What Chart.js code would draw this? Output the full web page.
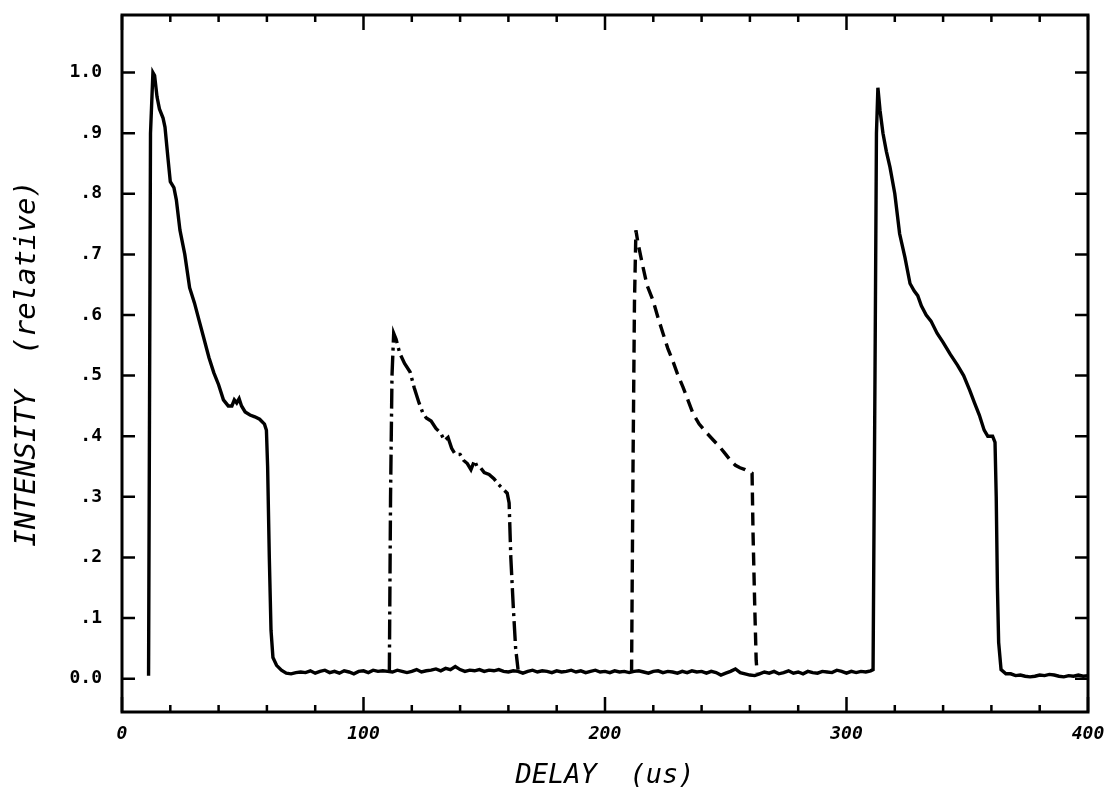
<!DOCTYPE html>
<html lang="en">
<head>
  <meta charset="UTF-8">
  <title>Intensity vs Delay</title>
  <script src="https://cdn.jsdelivr.net/npm/chart.js"></script>
  <style>
    html, body { margin: 0; padding: 0; background: #fff; }
    .chart-box { width: 1113px; height: 800px; }
  </style>
</head>
<body>
  <div class="chart-box"><canvas id="pulseChart"></canvas></div>

  <script>
    // Solid trace: first pulse, baseline, second pulse
    const solidX = [
      11.0, 11.8, 12.8, 13.5, 14.5, 15.5, 17.0, 17.8, 19.0, 20.0,
      21.5, 22.5, 24.0, 26.0, 28.0, 30.0, 32.0, 34.0, 36.0, 38.0,
      40.0, 42.0, 44.0, 45.5, 46.5, 47.5, 48.5, 49.5, 51.0, 53.0,
      55.0, 57.0, 59.0, 59.8, 60.3, 61.0, 61.7, 62.5,
      64, 66, 68, 70, 72, 74, 76, 78, 80, 82,
      84, 86, 88, 90, 92, 94, 96, 98, 100, 102,
      104, 106, 108, 110, 112, 114, 116, 118, 120, 122,
      124, 126, 128, 130, 132, 134, 136, 138, 140, 142,
      144, 146, 148, 150, 152, 154, 156, 158, 160, 162,
      164, 166, 168, 170, 172, 174, 176, 178, 180, 182,
      184, 186, 188, 190, 192, 194, 196, 198, 200, 202,
      204, 206, 208, 210, 212, 214, 216, 218, 220, 222,
      224, 226, 228, 230, 232, 234, 236, 238, 240, 242,
      244, 246, 248, 250, 252, 254, 256, 258, 260, 262,
      264, 266, 268, 270, 272, 274, 276, 278, 280, 282,
      284, 286, 288, 290, 292, 294, 296, 298, 300, 302,
      304, 306, 308, 310, 311.0,
      311.8, 312.4, 313.0, 313.9, 315.1, 316.5, 318.0, 320.0, 322.0, 324.2,
      326.3, 328.0, 329.5, 331.0, 333.0, 335.0, 337.5, 340.0, 343.0, 346.0,
      348.5, 351.0, 353.0, 355.0, 357.0, 358.5, 360.5, 361.5, 362.0, 362.5,
      363.0, 364.0,
      366, 368, 370, 372, 374, 376, 378, 380, 382, 384,
      386, 388, 390, 392, 394, 396, 398, 400];
    const solidY = [
      0.005, 0.90, 1.0, 0.995, 0.96, 0.94, 0.925, 0.91, 0.86, 0.82,
      0.81, 0.79, 0.74, 0.70, 0.645, 0.62, 0.59, 0.56, 0.53, 0.505,
      0.485, 0.46, 0.45, 0.45, 0.46, 0.455, 0.462, 0.45, 0.44, 0.435,
      0.432, 0.428, 0.42, 0.41, 0.35, 0.20, 0.08, 0.035,
      0.022, 0.014, 0.009, 0.008, 0.010, 0.011, 0.010, 0.013, 0.009, 0.012,
      0.014, 0.010, 0.012, 0.009, 0.013, 0.011, 0.008, 0.012, 0.013, 0.010,
      0.014, 0.012, 0.013, 0.012, 0.011, 0.014, 0.012, 0.010, 0.012, 0.015,
      0.011, 0.013, 0.014, 0.016, 0.013, 0.017, 0.015, 0.020, 0.015, 0.012,
      0.014, 0.013, 0.015, 0.012, 0.014, 0.013, 0.015, 0.012, 0.011, 0.013,
      0.012, 0.009, 0.012, 0.014, 0.011, 0.013, 0.012, 0.010, 0.013, 0.011,
      0.012, 0.014, 0.011, 0.013, 0.010, 0.012, 0.014, 0.011, 0.012, 0.010,
      0.013, 0.011, 0.012, 0.010, 0.012, 0.013, 0.011, 0.009, 0.012, 0.013,
      0.010, 0.012, 0.011, 0.009, 0.012, 0.010, 0.013, 0.011, 0.012, 0.009,
      0.012, 0.010, 0.006, 0.009, 0.012, 0.016, 0.010, 0.008, 0.006, 0.005,
      0.008, 0.011, 0.009, 0.012, 0.008, 0.010, 0.013, 0.009, 0.011, 0.008,
      0.012, 0.010, 0.009, 0.012, 0.011, 0.010, 0.014, 0.012, 0.009, 0.012,
      0.010, 0.012, 0.011, 0.013, 0.015,
      0.50, 0.90, 0.975, 0.937, 0.90, 0.87, 0.844, 0.80, 0.734, 0.695,
      0.652, 0.64, 0.632, 0.615, 0.60, 0.59, 0.57, 0.555, 0.535, 0.517,
      0.50, 0.476, 0.455, 0.435, 0.41, 0.40, 0.40, 0.39, 0.30, 0.15,
      0.06, 0.015,
      0.008, 0.008, 0.005, 0.006, 0.004, 0.003, 0.004, 0.006, 0.005, 0.007,
      0.006, 0.004, 0.003, 0.005, 0.004, 0.006, 0.004, 0.005];

    // Dash-dot trace
    const dashDotX = [
      110.7, 111.2, 111.8, 112.5, 113.5, 115.0, 117.0, 119.3, 121.0, 123.0,
      124.6, 126.0, 128.0, 130.0, 132.0, 133.5, 135.0, 136.5, 138.0, 140.0,
      141.5, 143.0, 144.5, 146.0, 147.0, 148.5, 150.0, 152.0, 154.0, 156.0,
      158.0, 159.5, 160.3, 161.0, 162.0, 163.0, 164.0];
    const dashDotY = [
      0.010, 0.30, 0.50, 0.57, 0.56, 0.537, 0.52, 0.506, 0.48, 0.455,
      0.438, 0.43, 0.425, 0.413, 0.405, 0.393, 0.398, 0.38, 0.37, 0.37,
      0.36, 0.355, 0.345, 0.36, 0.35, 0.348, 0.34, 0.337, 0.33, 0.32,
      0.312, 0.306, 0.29, 0.20, 0.12, 0.05, 0.015];

    // Dashed trace
    const dashX = [
      211.0, 211.6, 212.2, 212.8, 213.6, 215.3, 217.4, 219.9, 222.0, 224.0,
      226.0, 228.0, 230.0, 232.3, 234.5, 236.4, 239.0, 242.2, 245.0, 247.6,
      250.0, 251.8, 254.0, 255.9, 258.0, 260.9, 261.3, 262.0, 262.6, 263.0];
    const dashY = [
      0.010, 0.35, 0.62, 0.74, 0.72, 0.687, 0.649, 0.624, 0.595, 0.57,
      0.545, 0.525, 0.503, 0.481, 0.458, 0.438, 0.42, 0.405, 0.393, 0.382,
      0.37, 0.361, 0.352, 0.348, 0.345, 0.339, 0.24, 0.12, 0.03, 0.010];

    const xTicks = [0, 20, 40, 60, 80, 100, 120, 140, 160, 180, 200, 220, 240, 260, 280, 300, 320, 340, 360, 380, 400];
    const xLabeled = [0, 100, 200, 300, 400];
    const yTicks = [0, 0.1, 0.2, 0.3, 0.4, 0.5, 0.6, 0.7, 0.8, 0.9, 1.0];
    const yTickLabels = ['0.0', '.1', '.2', '.3', '.4', '.5', '.6', '.7', '.8', '.9', '1.0'];

    const toPoints = (xs, ys) => xs.map((x, i) => ({ x: x, y: ys[i] }));

    // frame + inward tick marks on all four sides
    const framePlugin = {
      id: 'frame',
      afterDraw(chart) {
        const { ctx, chartArea, scales } = chart;
        const { left, right, top, bottom } = chartArea;
        ctx.save();
        ctx.strokeStyle = '#000';
        ctx.lineWidth = 3;
        ctx.strokeRect(left, top, right - left, bottom - top);
        ctx.lineWidth = 2.5;
        ctx.beginPath();
        xTicks.forEach(v => {
          const px = scales.x.getPixelForValue(v);
          const len = v % 100 === 0 ? 15 : 7;
          ctx.moveTo(px, bottom); ctx.lineTo(px, bottom - len);
          ctx.moveTo(px, top); ctx.lineTo(px, top + len);
        });
        yTicks.forEach(v => {
          const py = scales.y.getPixelForValue(v);
          ctx.moveTo(left, py); ctx.lineTo(left + 13, py);
          ctx.moveTo(right, py); ctx.lineTo(right - 13, py);
        });
        ctx.stroke();
        ctx.restore();
      }
    };

    const tickFont = { family: 'DejaVu Sans Mono', size: 18, weight: 'bold' };

    new Chart(document.getElementById('pulseChart'), {
      type: 'line',
      data: {
        datasets: [
          {
            label: 'solid',
            data: toPoints(solidX, solidY),
            borderColor: '#000',
            borderWidth: 3.4,
            pointRadius: 0,
            tension: 0
          },
          {
            label: 'dash-dot',
            data: toPoints(dashDotX, dashDotY),
            borderColor: '#000',
            borderWidth: 3.4,
            borderDash: [20, 5, 3, 5],
            pointRadius: 0,
            tension: 0
          },
          {
            label: 'dashed',
            data: toPoints(dashX, dashY),
            borderColor: '#000',
            borderWidth: 3.4,
            borderDash: [13, 7],
            pointRadius: 0,
            tension: 0
          }
        ]
      },
      options: {
        responsive: true,
        maintainAspectRatio: false,
        animation: false,
        layout: { padding: 0 },
        plugins: {
          legend: { display: false },
          tooltip: { enabled: false }
        },
        scales: {
          x: {
            type: 'linear',
            min: 0,
            max: 400,
            afterBuildTicks: scale => { scale.ticks = xTicks.map(v => ({ value: v })); },
            afterFit: scale => {
              scale.height = 88;
              scale.paddingLeft = 0;
              scale.paddingRight = 25;
            },
            grid: { display: false, drawTicks: false },
            border: { display: false },
            ticks: {
              autoSkip: false,
              maxRotation: 0,
              padding: 12,
              color: '#000',
              font: { family: 'DejaVu Sans Mono', size: 18, weight: 'bold', style: 'italic' },
              callback: v => xLabeled.includes(v) ? String(v) : ''
            },
            title: {
              display: true,
              text: 'DELAY  (us)',
              color: '#000',
              font: { family: 'DejaVu Sans Mono', size: 27, style: 'italic' },
              padding: { top: 0, bottom: 8 }
            }
          },
          y: {
            type: 'linear',
            min: -0.055,
            max: 1.095,
            afterBuildTicks: scale => { scale.ticks = yTicks.map(v => ({ value: v })); },
            afterFit: scale => {
              scale.width = 122;
              scale.paddingTop = 15;
              scale.paddingBottom = 0;
            },
            grid: { display: false, drawTicks: false },
            border: { display: false },
            ticks: {
              padding: 20,
              color: '#000',
              font: tickFont,
              callback: (v, i) => yTickLabels[i]
            },
            title: {
              display: true,
              text: 'INTENSITY  (relative)',
              color: '#000',
              font: { family: 'DejaVu Sans Mono', size: 29, style: 'italic' },
              padding: { top: 10, bottom: 0 }
            }
          }
        }
      },
      plugins: [framePlugin]
    });
  </script>
</body>
</html>
